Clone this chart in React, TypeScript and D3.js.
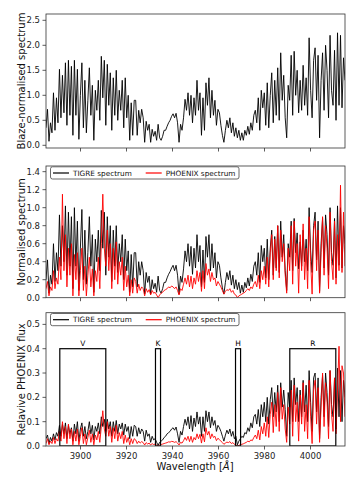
import React from "react";
import * as d3 from "d3";

// wavelength grid (Angstrom)
const WL_START = 3885;
const WL_STEP = 0.65;

// panel 1: TIGRE, blaze-normalised
const blazeTigre = [
  0.35, 0.72, 0.08, 0.45, 0.25, 1.05, 0.3, 0.95, 0.45, 1.52, 0.55, 1.4, 0.65, 1.65, 0.4, 1.7, 0.6, 1.58, 0.2, 1.7,
  0.6, 1.52, 0.12, 1.0, 1.65, 0.35, 1.3, 0.25, 0.9, 1.55, 0.6, 1.2, 0.1, 1.1, 0.7, 1.3, 0.5, 1.78, 0.95, 1.7,
  0.4, 1.62, 0.8, 1.45, 0.3, 1.35, 0.6, 1.5, 0.5, 1.1, 0.7, 1.3, 0.35, 1.35, 0.55, 1.0, 0.1, 0.85, 0.2, 0.9,
  0.9, 0.2, 0.7, 0.45, 0.72, 0.55, 0.06, 0.48, 0.3, 0.42, 0.06, 0.32, 0.18, 0.28, 0.1, 0.42, 0.15, 0.1, 0.18, 0.3,
  0.3, 0.38, 0.45, 0.5, 0.58, 0.63, 0.55, 0.64, 0.45, 0.06, 0.42, 0.3, 0.55, 0.92, 0.7, 1.05, 0.6, 1.0, 0.45, 0.95,
  0.6, 1.3, 0.7, 1.05, 0.2, 0.95, 0.3, 1.25, 0.8, 1.35, 0.55, 1.1, 0.6, 0.9, 0.4, 0.72, 0.65, 0.4, 0.2, 0.06,
  0.3, 0.5, 0.35, 0.55, 0.25, 0.45, 0.18, 0.35, 0.15, 0.3, 0.1, 0.25, 0.1, 0.3, 0.2, 0.38, 0.22, 0.45, 0.3, 0.6,
  0.7, 0.45, 0.95, 0.3, 1.1, 0.75, 1.05, 0.4, 1.25, 0.35, 1.0, 1.45, 0.45, 1.3, 0.6, 1.55, 0.5, 1.85, 0.9, 1.4,
  0.55, 0.15, 1.2, 0.9, 1.8, 0.6, 1.88, 1.0, 1.5, 0.65, 1.3, 0.7, 1.6, 0.8, 1.35, 0.6, 2.15, 1.1, 0.55, 1.7,
  1.95, 0.9, 1.8, 0.15, 1.3, 1.85, 0.7, 2.0, 1.5, 0.55, 2.2, 1.1, 0.8, 1.9, 0.5, 2.25, 0.8, 2.2, 0.75, 1.75,
  1.3,
];

// panel 2: normalised spectra
const normTigre = [
  0.2, 0.42, 0.05, 0.25, 0.15, 0.6, 0.18, 0.5, 0.3, 0.92, 0.35, 0.8, 0.4, 1.02, 0.25, 0.95, 0.35, 0.9, 0.1, 1.0,
  0.35, 0.85, 0.08, 0.55, 0.98, 0.2, 0.75, 0.15, 0.5, 0.9, 0.35, 0.7, 0.06, 0.65, 0.4, 0.75, 0.3, 0.97, 0.55, 0.95,
  0.25, 0.9, 0.45, 0.8, 0.18, 0.75, 0.35, 0.8, 0.28, 0.6, 0.4, 0.7, 0.2, 0.65, 0.3, 0.52, 0.06, 0.48, 0.12, 0.5,
  0.5, 0.12, 0.4, 0.25, 0.4, 0.3, 0.04, 0.28, 0.17, 0.24, 0.04, 0.2, 0.1, 0.16, 0.06, 0.24, 0.08, 0.05, 0.1, 0.17,
  0.17, 0.22, 0.26, 0.29, 0.33, 0.36, 0.3, 0.36, 0.25, 0.04, 0.24, 0.17, 0.32, 0.52, 0.4, 0.6, 0.35, 0.57, 0.26, 0.55,
  0.33, 0.7, 0.4, 0.58, 0.12, 0.53, 0.17, 0.68, 0.45, 0.7, 0.3, 0.6, 0.33, 0.5, 0.22, 0.4, 0.36, 0.22, 0.11, 0.04,
  0.17, 0.28, 0.2, 0.3, 0.14, 0.25, 0.1, 0.2, 0.09, 0.17, 0.05, 0.14, 0.06, 0.17, 0.11, 0.22, 0.13, 0.26, 0.18, 0.35,
  0.4, 0.25, 0.5, 0.17, 0.58, 0.4, 0.55, 0.22, 0.65, 0.2, 0.55, 0.75, 0.25, 0.68, 0.33, 0.8, 0.28, 0.85, 0.45, 0.7,
  0.3, 0.08, 0.6, 0.45, 0.85, 0.3, 0.88, 0.5, 0.72, 0.32, 0.62, 0.35, 0.75, 0.4, 0.65, 0.3, 1.0, 0.52, 0.28, 0.8,
  0.95, 0.42, 0.85, 0.07, 0.6, 0.88, 0.33, 0.92, 0.7, 0.25, 1.0, 0.5, 0.36, 0.88, 0.22, 1.02, 0.36, 1.0, 0.33, 0.8,
  0.6,
];
const normPhoenix = [
  0.1, 0.18, 0.02, 0.12, 0.08, 0.3, 0.1, 0.22, 0.15, 0.45, 0.2, 1.15, 0.3, 0.7, 0.12, 0.55, 0.25, 0.6, 0.02, 0.48,
  0.2, 0.5, 0.02, 0.3, 0.55, 0.08, 0.35, 0.02, 0.25, 0.45, 0.12, 0.32, 0.02, 0.3, 0.18, 0.45, 0.1, 0.6, 1.15, 0.55,
  0.35, 0.75, 0.3, 0.6, 0.1, 0.55, 0.2, 0.62, 0.15, 0.4, 0.25, 0.45, 0.08, 0.35, 0.12, 0.25, 0.02, 0.2, 0.05, 0.22,
  0.18, 0.05, 0.15, 0.08, 0.12, 0.1, 0.02, 0.1, 0.06, 0.09, 0.03, 0.08, 0.05, 0.06, 0.03, 0.0, 0.03, 0.05, 0.06, 0.08,
  0.09, 0.1, 0.12, 0.11, 0.13, 0.12, 0.1, 0.12, 0.08, 0.03, 0.1, 0.08, 0.15, 0.22, 0.15, 0.25, 0.12, 0.24, 0.1, 0.22,
  0.15, 0.3, 0.18, 0.28, 0.07, 0.3, 0.1, 0.38, 0.25, 0.32, 0.18, 0.28, 0.2, 0.22, 0.13, 0.18, 0.15, 0.12, 0.08, 0.04,
  0.07, 0.09, 0.08, 0.1, 0.06, 0.08, 0.04, 0.03, 0.0, 0.02, 0.03, 0.04, 0.05, 0.06, 0.08, 0.1, 0.08, 0.12, 0.1, 0.15,
  0.18, 0.12, 0.25, 0.1, 0.3, 0.2, 0.35, 0.15, 0.45, 0.12, 0.5, 0.7, 0.2, 0.65, 0.3, 0.8, 0.22, 0.75, 0.4, 0.6,
  0.25, 0.05, 0.55, 0.3, 0.8, 0.15, 0.85, 0.35, 0.6, 0.05, 0.7, 0.3, 0.82, 0.2, 0.55, 0.1, 0.9, 0.4, 0.04, 0.75,
  0.85, 0.3, 0.75, 0.05, 0.5, 0.9, 0.25, 0.8, 0.55, 0.1, 0.95, 0.4, 0.2, 0.85, 0.15, 0.7, 0.3, 1.25, 0.28, 0.95,
  0.35,
];

// panel 3: relative PHOENIX flux
const relTigre = [
  0.03, 0.045, 0.01, 0.035, 0.02, 0.05, 0.025, 0.055, 0.04, 0.085, 0.04, 0.09, 0.05, 0.095, 0.03, 0.085, 0.05, 0.075, 0.02, 0.09,
  0.05, 0.1, 0.02, 0.07, 0.095, 0.04, 0.08, 0.03, 0.06, 0.1, 0.05, 0.085, 0.025, 0.08, 0.06, 0.095, 0.05, 0.12, 0.08, 0.11,
  0.06, 0.11, 0.07, 0.1, 0.04, 0.1, 0.06, 0.105, 0.05, 0.09, 0.07, 0.095, 0.045, 0.09, 0.06, 0.08, 0.03, 0.08, 0.04, 0.085,
  0.08, 0.04, 0.075, 0.05, 0.07, 0.06, 0.02, 0.065, 0.04, 0.05, 0.015, 0.04, 0.025, 0.03, 0.015, 0.003, 0.015, 0.02, 0.025, 0.035,
  0.04, 0.05, 0.055, 0.06, 0.07, 0.075, 0.065, 0.078, 0.05, 0.015, 0.06, 0.045, 0.08, 0.11, 0.085, 0.12, 0.07, 0.125, 0.06, 0.115,
  0.08, 0.14, 0.09, 0.12, 0.04, 0.12, 0.06, 0.145, 0.1, 0.14, 0.075, 0.12, 0.085, 0.105, 0.06, 0.085, 0.075, 0.06, 0.04, 0.02,
  0.045, 0.065, 0.05, 0.07, 0.04, 0.06, 0.03, 0.04, 0.005, 0.02, 0.03, 0.04, 0.035, 0.055, 0.05, 0.075, 0.06, 0.095, 0.075, 0.12,
  0.13, 0.09, 0.15, 0.08, 0.17, 0.12, 0.18, 0.1, 0.2, 0.09, 0.19, 0.24, 0.12, 0.22, 0.14, 0.25, 0.1, 0.26, 0.16, 0.23,
  0.15, 0.04, 0.22, 0.16, 0.27, 0.1, 0.28, 0.17, 0.24, 0.1, 0.23, 0.12, 0.27, 0.14, 0.25, 0.1, 0.31, 0.18, 0.06, 0.28,
  0.3, 0.14, 0.28, 0.03, 0.2, 0.29, 0.12, 0.3, 0.22, 0.08, 0.31, 0.17, 0.12, 0.28, 0.07, 0.32, 0.12, 0.31, 0.1, 0.27,
  0.2,
];
const relPhoenix = [
  0.01, 0.03, 0.005, 0.02, 0.01, 0.035, 0.01, 0.03, 0.02, 0.06, 0.02, 0.1, 0.03, 0.08, 0.01, 0.09, 0.03, 0.07, 0.005, 0.06,
  0.02, 0.07, 0.005, 0.04, 0.075, 0.01, 0.05, 0.005, 0.035, 0.065, 0.015, 0.05, 0.005, 0.045, 0.025, 0.06, 0.015, 0.08, 0.145, 0.07,
  0.04, 0.1, 0.04, 0.08, 0.015, 0.075, 0.03, 0.085, 0.02, 0.055, 0.03, 0.06, 0.01, 0.045, 0.015, 0.035, 0.005, 0.03, 0.01, 0.03,
  0.025, 0.01, 0.02, 0.012, 0.018, 0.014, 0.004, 0.014, 0.008, 0.012, 0.004, 0.01, 0.006, 0.008, 0.004, 0.0, 0.004, 0.006, 0.008, 0.01,
  0.012, 0.014, 0.017, 0.016, 0.019, 0.018, 0.015, 0.018, 0.012, 0.004, 0.015, 0.012, 0.022, 0.035, 0.023, 0.04, 0.018, 0.04, 0.015, 0.035,
  0.025, 0.05, 0.03, 0.048, 0.012, 0.05, 0.017, 0.075, 0.045, 0.06, 0.03, 0.05, 0.035, 0.04, 0.022, 0.032, 0.026, 0.02, 0.014, 0.007,
  0.012, 0.016, 0.014, 0.018, 0.01, 0.014, 0.007, 0.005, 0.0, 0.003, 0.005, 0.007, 0.009, 0.012, 0.015, 0.02, 0.017, 0.025, 0.022, 0.035,
  0.045, 0.03, 0.065, 0.025, 0.08, 0.05, 0.095, 0.04, 0.12, 0.035, 0.13, 0.18, 0.055, 0.17, 0.08, 0.22, 0.06, 0.24, 0.11, 0.17,
  0.07, 0.015, 0.16, 0.09, 0.23, 0.04, 0.25, 0.1, 0.18, 0.02, 0.21, 0.09, 0.26, 0.06, 0.17, 0.03, 0.27, 0.12, 0.01, 0.23,
  0.27, 0.09, 0.24, 0.015, 0.16, 0.3, 0.08, 0.26, 0.18, 0.03, 0.31, 0.13, 0.06, 0.28, 0.05, 0.23, 0.41, 0.1, 0.33, 0.3,
  0.12,
];

// Ca II H&K windows drawn in panel 3
const bandNames = ["V", "K", "H", "R"];
const bandStart = [3891, 3932.6, 3967.4, 3991];
const bandEnd = [3911, 3934.8, 3969.6, 4011];
const bandHeight = 0.4;

const xTicks = [3900, 3920, 3940, 3960, 3980, 4000];
const seriesNames = ["TIGRE spectrum", "PHOENIX spectrum"];
const seriesColors = ["#000000", "#ff0000"];

const wavelengths = blazeTigre.map((_, i) => WL_START + i * WL_STEP);

const FONT = "DejaVu Sans, sans-serif";
const LEFT = 46;
const RIGHT = 345;

const x = d3.scaleLinear().domain([3885, 4015]).range([LEFT, RIGHT]);

type PanelProps = {
  id: string;
  top: number;
  bottom: number;
  yDomain: [number, number];
  yTicks: number[];
  yLabel: string;
  series: number[][];
  legend?: boolean;
  showXLabels?: boolean;
  bands?: boolean;
};

const Panel = ({ id, top, bottom, yDomain, yTicks, yLabel, series, legend, showXLabels, bands }: PanelProps) => {
  const y = d3.scaleLinear().domain(yDomain).range([bottom, top]);
  const line = d3
    .line<number>()
    .x((_, i) => x(wavelengths[i]))
    .y((d) => y(d));
  const fmt = d3.format(".1f");
  const mid = (top + bottom) / 2;

  return (
    <g>
      <defs>
        <clipPath id={id}>
          <rect x={LEFT} y={top} width={RIGHT - LEFT} height={bottom - top} />
        </clipPath>
      </defs>
      <g clipPath={`url(#${id})`}>
        {series.map((s, k) => (
          <path key={k} d={line(s) || ""} fill="none" stroke={seriesColors[k]} strokeWidth={0.9} strokeLinejoin="round" />
        ))}
        {bands &&
          bandNames.map((b, i) => (
            <rect
              key={b}
              x={x(bandStart[i])}
              y={y(bandHeight)}
              width={x(bandEnd[i]) - x(bandStart[i])}
              height={y(0) - y(bandHeight)}
              fill="none"
              stroke="#000"
              strokeWidth={1.2}
            />
          ))}
      </g>
      {bands &&
        bandNames.map((b, i) => (
          <text
            key={b}
            x={x((bandStart[i] + bandEnd[i]) / 2)}
            y={y(bandHeight) - 3}
            textAnchor="middle"
            fontSize={7.5}
            fontFamily={FONT}
          >
            {b}
          </text>
        ))}
      <rect x={LEFT} y={top} width={RIGHT - LEFT} height={bottom - top} fill="none" stroke="#333" strokeWidth={0.8} />
      {yTicks.map((t) => (
        <g key={t}>
          <line x1={LEFT - 3.5} x2={LEFT} y1={y(t)} y2={y(t)} stroke="#333" strokeWidth={0.8} />
          <text x={LEFT - 6} y={y(t)} dy="0.35em" textAnchor="end" fontSize={8.5} fontFamily={FONT} fill="#222">
            {fmt(t)}
          </text>
        </g>
      ))}
      {xTicks.map((t) => (
        <g key={t}>
          <line x1={x(t)} x2={x(t)} y1={bottom} y2={bottom + 3.5} stroke="#333" strokeWidth={0.8} />
          {showXLabels && (
            <text x={x(t)} y={bottom + 13} textAnchor="middle" fontSize={8.5} fontFamily={FONT} fill="#222">
              {t}
            </text>
          )}
        </g>
      ))}
      <text
        transform={`translate(25,${mid}) rotate(-90)`}
        textAnchor="middle"
        fontSize={10}
        fontFamily={FONT}
        fill="#111"
      >
        {yLabel}
      </text>
      {legend && (
        <g>
          <rect x={50.5} y={top + 0.8} width={188.5} height={12.2} rx={2} fill="#fff" stroke="#444" strokeWidth={0.8} />
          {seriesNames.map((n, i) => (
            <g key={n} transform={`translate(${53 + i * 92.7},${top + 7})`}>
              <line x1={0} x2={16} y1={0} y2={0} stroke={seriesColors[i]} strokeWidth={1.2} />
              <text x={20} y={0} dy="0.35em" fontSize={7.3} fontFamily={FONT} fill="#111">
                {n}
              </text>
            </g>
          ))}
        </g>
      )}
    </g>
  );
};

export default function App() {
  return (
    <svg
      width={360}
      height={480}
      style={{ position: "absolute", left: 0, top: 0, background: "#fff" }}
    >
      <Panel
        id="p1"
        top={14}
        bottom={148}
        yDomain={[-0.054, 2.626]}
        yTicks={[0, 0.5, 1, 1.5, 2, 2.5]}
        yLabel="Blaze-normalised spectrum"
        series={[blazeTigre]}
      />
      <Panel
        id="p2"
        top={166}
        bottom={297.7}
        yDomain={[0, 1.463]}
        yTicks={[0, 0.2, 0.4, 0.6, 0.8, 1, 1.2, 1.4]}
        yLabel="Normalised spectrum"
        series={[normTigre, normPhoenix]}
        legend
      />
      <Panel
        id="p3"
        top={312.7}
        bottom={446}
        yDomain={[0, 0.548]}
        yTicks={[0, 0.1, 0.2, 0.3, 0.4, 0.5]}
        yLabel="Relavive PHOENIX flux"
        series={[relTigre, relPhoenix]}
        legend
        showXLabels
        bands
      />
      <text x={195} y={470} textAnchor="middle" fontSize={10} fontFamily={FONT} fill="#111">
        Wavelength [<tspan fontStyle="italic">Å</tspan>]
      </text>
    </svg>
  );
}
